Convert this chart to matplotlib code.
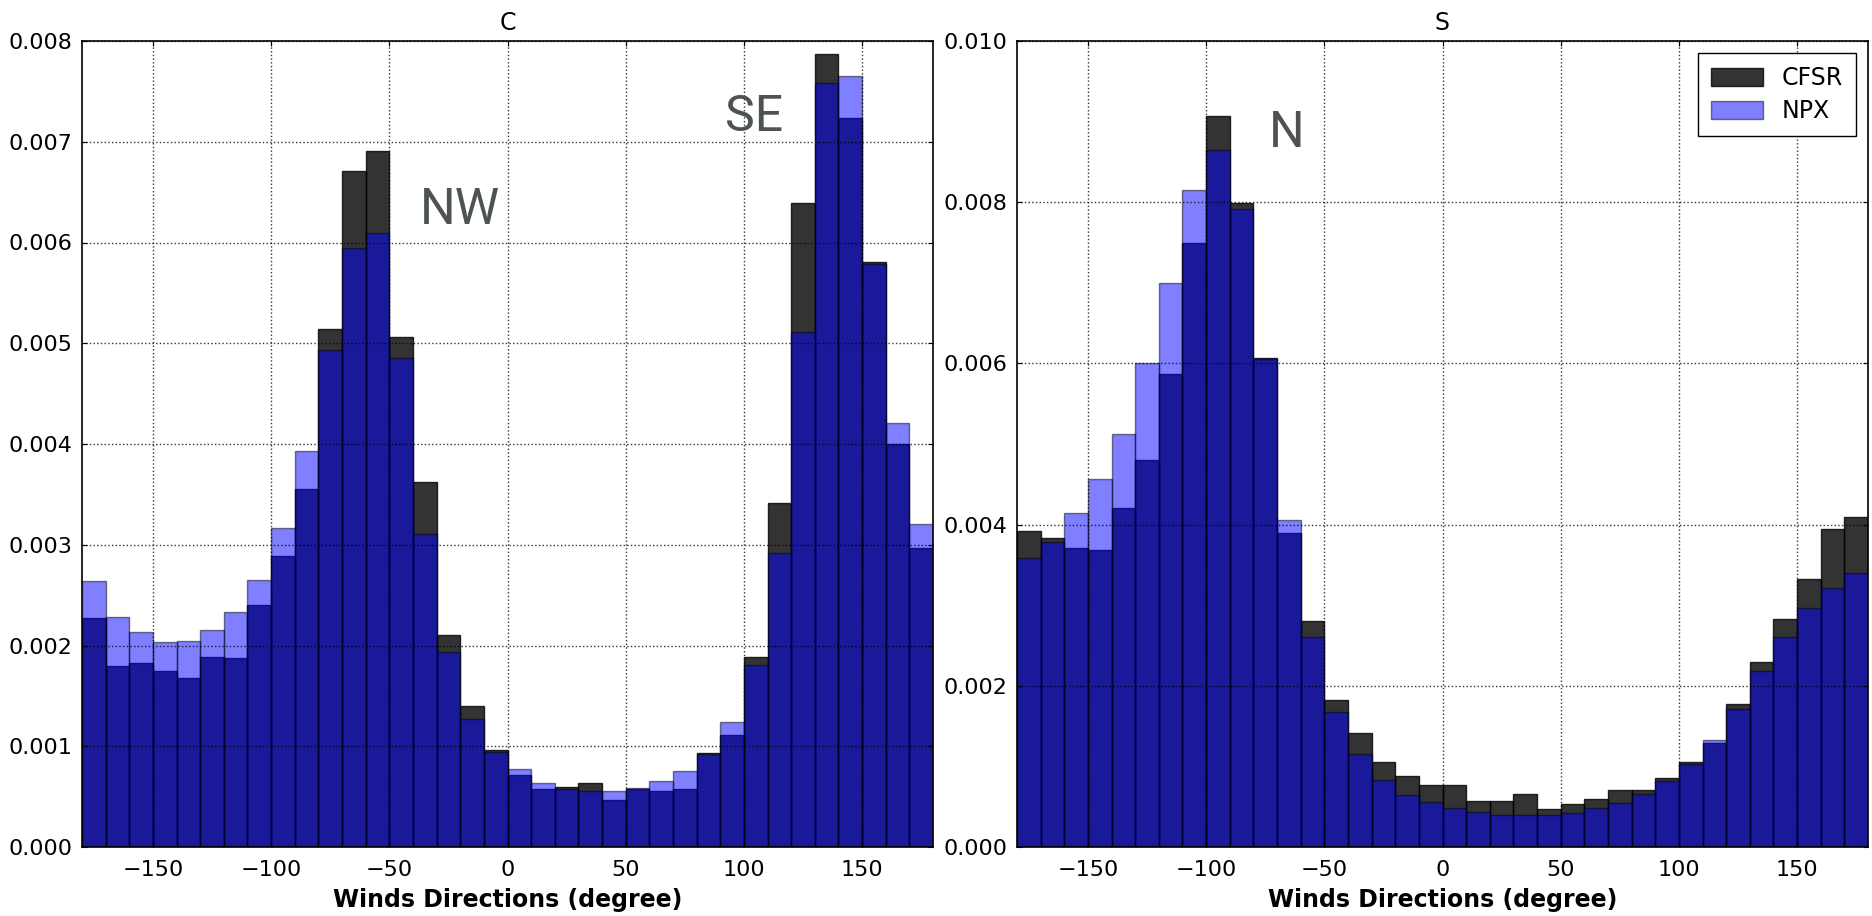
"""Wind direction histograms for regions C and S (CFSR vs NPX)."""

import matplotlib
matplotlib.use("Agg")
import matplotlib.pyplot as plt
import numpy as np

# 10-degree bins from -180 to 180
bin_edges = np.arange(-180, 181, 10)

# Region C, normalised frequency per bin
c_cfsr = [0.00227, 0.00180, 0.00183, 0.00175, 0.00168, 0.00189, 0.00188, 0.00240,
          0.00289, 0.00355, 0.00514, 0.00671, 0.00691, 0.00506, 0.00362, 0.00210,
          0.00140, 0.00096, 0.00071, 0.00058, 0.00060, 0.00064, 0.00047, 0.00058,
          0.00056, 0.00058, 0.00093, 0.00111, 0.00189, 0.00341, 0.00639, 0.00787,
          0.00724, 0.00581, 0.00400, 0.00297]
c_npx = [0.00264, 0.00228, 0.00213, 0.00203, 0.00204, 0.00215, 0.00233, 0.00265,
         0.00317, 0.00393, 0.00493, 0.00595, 0.00609, 0.00485, 0.00311, 0.00194,
         0.00127, 0.00094, 0.00077, 0.00064, 0.00058, 0.00056, 0.00056, 0.00059,
         0.00066, 0.00075, 0.00092, 0.00124, 0.00181, 0.00292, 0.00511, 0.00758,
         0.00765, 0.00579, 0.00421, 0.00321]

# Region S
s_cfsr = [0.00392, 0.00383, 0.00371, 0.00368, 0.00421, 0.00480, 0.00587, 0.00750,
          0.00907, 0.00799, 0.00607, 0.00390, 0.00281, 0.00183, 0.00142, 0.00105,
          0.00088, 0.00077, 0.00077, 0.00057, 0.00057, 0.00066, 0.00047, 0.00053,
          0.00059, 0.00071, 0.00071, 0.00086, 0.00106, 0.00129, 0.00178, 0.00229,
          0.00283, 0.00332, 0.00394, 0.00409]
s_npx = [0.00358, 0.00379, 0.00415, 0.00456, 0.00513, 0.00600, 0.00700, 0.00815,
         0.00865, 0.00791, 0.00606, 0.00406, 0.00260, 0.00168, 0.00116, 0.00083,
         0.00064, 0.00056, 0.00048, 0.00044, 0.00040, 0.00040, 0.00040, 0.00042,
         0.00049, 0.00055, 0.00066, 0.00082, 0.00103, 0.00133, 0.00171, 0.00218,
         0.00260, 0.00297, 0.00321, 0.00340]

panels = [
    ("C", c_cfsr, c_npx, 0.008, 0.001, [("NW", -37, 0.00618), ("SE", 92, 0.00711)]),
    ("S", s_cfsr, s_npx, 0.010, 0.002, [("N", -73.5, 0.00868)]),
]

plt.rcParams["font.family"] = "DejaVu Sans"

fig = plt.figure(figsize=(18.72, 9.16), dpi=100, facecolor="white")
positions = [
    [82 / 1872, 69 / 916, 851 / 1872, 806 / 916],
    [1017 / 1872, 69 / 916, 851 / 1872, 806 / 916],
]

for i, (title, cfsr, npx, ymax, ystep, notes) in enumerate(panels):
    ax = fig.add_axes(positions[i])
    lefts = bin_edges[:-1]
    ax.bar(lefts, cfsr, width=10, align="edge", color="black", alpha=0.8,
           edgecolor="black", linewidth=1, label="CFSR")
    ax.bar(lefts, npx, width=10, align="edge", color="blue", alpha=0.5,
           edgecolor="black", linewidth=1, label="NPX")

    ax.set_xlim(-180, 180)
    ax.set_ylim(0, ymax)
    ax.set_xticks([-150, -100, -50, 0, 50, 100, 150])
    ax.set_yticks(np.arange(0, ymax + ystep / 2, ystep))
    ax.yaxis.set_major_formatter(plt.FormatStrFormatter("%.3f"))
    ax.tick_params(direction="in", top=True, right=True, labelsize=16)
    ax.tick_params(axis="x", pad=9)
    ax.tick_params(axis="y", pad=7)
    ax.grid(True, linestyle=":", color="black", linewidth=1, alpha=0.8)
    ax.set_axisbelow(False)
    for sp in ax.spines.values():
        sp.set_linewidth(1.2)

    ax.set_title(title, fontsize=17, pad=8)
    ax.set_xlabel("Winds Directions (degree)", fontsize=17, fontweight="bold",
                  labelpad=6)

    for text, x, y in notes:
        ax.text(x, y, text, fontsize=36, family="Roboto", color="#4d5353")

    if i == 1:
        ax.legend(loc="upper right", fontsize=17, fancybox=False,
                  edgecolor="black", framealpha=1, borderpad=0.55,
                  handlelength=2.2, handleheight=0.8, labelspacing=0.4)

fig.savefig("out.png", dpi=100, facecolor="white")
